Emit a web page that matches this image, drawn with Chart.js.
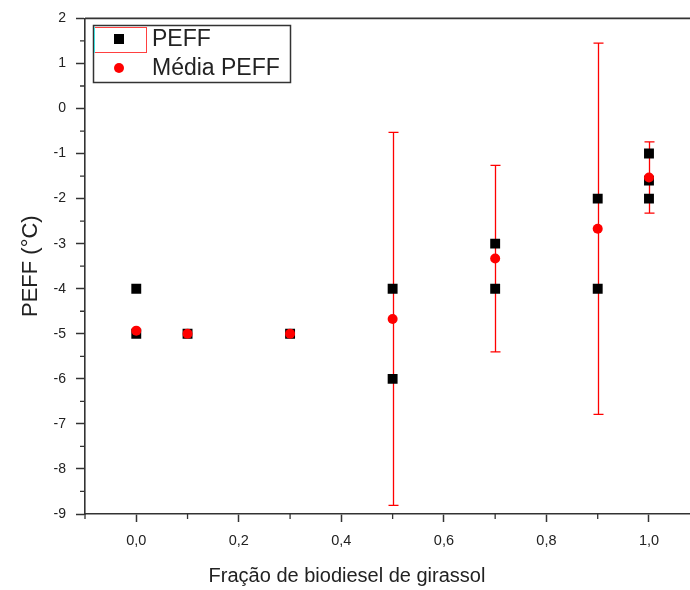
<!DOCTYPE html>
<html>
<head>
<meta charset="utf-8">
<script src="https://cdn.jsdelivr.net/npm/chart.js@4.4.0/dist/chart.umd.min.js"></script>
<style>
  html, body { margin: 0; padding: 0; background: #fff; }
</style>
</head>
<body>
<canvas id="peffChart" width="690" height="590"></canvas>
<script>
// individual PEFF readings
const peffX = [0, 0, 0.1, 0.3, 0.5, 0.5, 0.7, 0.7, 0.9, 0.9, 1.0, 1.0, 1.0];
const peffY = [-4, -5, -5, -5, -4, -6, -3, -4, -2, -4, -1, -1.6, -2];

// mean PEFF and its error (half-length of the bar)
const meanX = [0, 0.1, 0.3, 0.5, 0.7, 0.9, 1.0];
const meanY = [-4.93, -5, -5, -4.67, -3.33, -2.67, -1.53];
const meanErr = [0, 0, 0, 4.14, 2.07, 4.12, 0.79];

const xTicks = [0, 0.2, 0.4, 0.6, 0.8, 1.0];
const xMinor = [-0.1, 0.1, 0.3, 0.5, 0.7, 0.9];
const yTicks = [2, 1, 0, -1, -2, -3, -4, -5, -6, -7, -8, -9];
const yMinor = [1.5, 0.5, -0.5, -1.5, -2.5, -3.5, -4.5, -5.5, -6.5, -7.5, -8.5];

const axisColor = "#333";
const textColor = "#222";
const fontFam = "'Liberation Sans', Arial, sans-serif";

const errorBars = {
  id: "errorBars",
  beforeDatasetsDraw(chart) {
    const { ctx, scales: { x, y } } = chart;
    ctx.save();
    ctx.strokeStyle = "#ff0000";
    ctx.lineWidth = 1.3;
    meanX.forEach((v, i) => {
      if (!meanErr[i]) return;
      const px = Math.round(x.getPixelForValue(v)) + 0.5;
      const top = y.getPixelForValue(meanY[i] + meanErr[i]);
      const bot = y.getPixelForValue(meanY[i] - meanErr[i]);
      ctx.beginPath();
      ctx.moveTo(px, top); ctx.lineTo(px, bot);
      ctx.moveTo(px - 5, top); ctx.lineTo(px + 5, top);
      ctx.moveTo(px - 5, bot); ctx.lineTo(px + 5, bot);
      ctx.stroke();
    });
    ctx.restore();
  }
};

const frameAndLegend = {
  id: "frameAndLegend",
  afterDraw(chart) {
    const { ctx, chartArea, scales: { x, y } } = chart;
    ctx.save();
    ctx.strokeStyle = axisColor;

    // top frame line
    ctx.lineWidth = 1.6;
    ctx.beginPath();
    ctx.moveTo(chartArea.left, chartArea.top);
    ctx.lineTo(chartArea.right, chartArea.top);
    ctx.stroke();

    // minor ticks
    ctx.lineWidth = 1.3;
    ctx.beginPath();
    xMinor.forEach(v => {
      const px = x.getPixelForValue(v);
      ctx.moveTo(px, chartArea.bottom);
      ctx.lineTo(px, chartArea.bottom + 5);
    });
    yMinor.forEach(v => {
      const py = y.getPixelForValue(v);
      ctx.moveTo(chartArea.left, py);
      ctx.lineTo(chartArea.left - 5, py);
    });
    ctx.stroke();

    // x axis title
    ctx.fillStyle = textColor;
    ctx.font = "20px " + fontFam;
    ctx.textAlign = "center";
    ctx.textBaseline = "middle";
    ctx.fillText("Fração de biodiesel de girassol", 347, 576);

    // legend
    const ds = chart.data.datasets;
    ctx.lineWidth = 1.5;
    ctx.strokeRect(93.5, 25.5, 197, 57);
    ctx.strokeStyle = "#ff4040";
    ctx.lineWidth = 1;
    ctx.strokeRect(94.5, 27.5, 52, 25);
    ctx.strokeStyle = "#40e0e0";
    ctx.beginPath();
    ctx.moveTo(94.5, 27); ctx.lineTo(94.5, 53);
    ctx.stroke();

    ctx.fillStyle = ds[0].backgroundColor;
    ctx.fillRect(114, 34, 10, 10);
    ctx.fillStyle = ds[1].backgroundColor;
    ctx.beginPath();
    ctx.arc(119, 68, 5, 0, Math.PI * 2);
    ctx.fill();

    ctx.fillStyle = textColor;
    ctx.font = "23px " + fontFam;
    ctx.textAlign = "left";
    ctx.fillText(ds[0].label, 152, 40);
    ctx.fillText(ds[1].label, 152, 69);
    ctx.restore();
  }
};

new Chart(document.getElementById("peffChart"), {
  type: "scatter",
  data: {
    datasets: [
      {
        label: "PEFF",
        data: peffX.map((v, i) => ({ x: v, y: peffY[i] })),
        pointStyle: "rect",
        pointRadius: 7,
        pointHoverRadius: 7,
        backgroundColor: "#000000",
        borderColor: "#000000",
        borderWidth: 0,
        order: 2,
      },
      {
        label: "Média PEFF",
        data: meanX.map((v, i) => ({ x: v, y: meanY[i] })),
        pointStyle: "circle",
        pointRadius: 5,
        pointHoverRadius: 5,
        backgroundColor: "#ff0000",
        borderColor: "#ff0000",
        borderWidth: 0,
        order: 1,
      },
    ],
  },
  options: {
    responsive: false,
    animation: false,
    events: [],
    layout: { autoPadding: false, padding: { top: 16, right: 0, left: 0, bottom: 0 } },
    scales: {
      x: {
        type: "linear",
        min: -0.1,
        max: 1.08,
        afterBuildTicks: s => { s.ticks = xTicks.map(value => ({ value })); },
        afterFit: s => { s.height = 76; },
        ticks: {
          color: textColor,
          font: { family: fontFam, size: 14.5 },
          padding: 10,
          callback: v => Number(v).toFixed(1).replace(".", ","),
        },
        grid: { drawOnChartArea: false, tickLength: 8, tickColor: axisColor, tickWidth: 1.5 },
        border: { color: axisColor, width: 1.6 },
      },
      y: {
        type: "linear",
        min: -9,
        max: 2,
        afterBuildTicks: s => { s.ticks = yTicks.map(value => ({ value })); },
        afterFit: s => { s.width = 85; },
        ticks: {
          color: textColor,
          font: { family: fontFam, size: 14 },
          padding: 10,
        },
        grid: { drawOnChartArea: false, tickLength: 9, tickColor: axisColor, tickWidth: 1.5 },
        border: { color: axisColor, width: 1.6 },
        title: {
          display: true,
          text: "PEFF (°C)",
          color: textColor,
          font: { family: fontFam, size: 22 },
          padding: { top: 18, bottom: 0 },
        },
      },
    },
    plugins: {
      legend: { display: false },
      tooltip: { enabled: false },
    },
  },
  plugins: [errorBars, frameAndLegend],
});
</script>
</body>
</html>
